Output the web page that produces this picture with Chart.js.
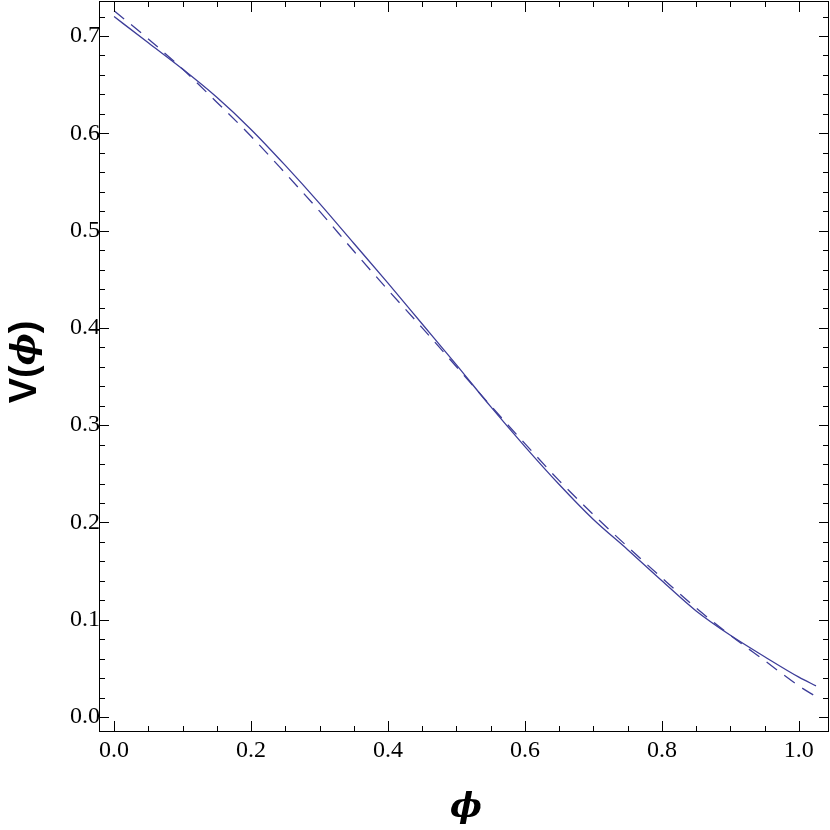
<!DOCTYPE html>
<html>
<head>
<meta charset="utf-8">
<script src="https://cdn.jsdelivr.net/npm/chart.js@4.4.1/dist/chart.umd.min.js"></script>
<style>
  html, body { margin: 0; padding: 0; background: #fff; }
  #wrap { width: 830px; height: 830px; }
</style>
</head>
<body>
<div id="wrap"><canvas id="grafico" width="830" height="830"></canvas></div>
<script>
  // valores
  const phi = [0, 0.05, 0.10, 0.15, 0.20, 0.25, 0.30, 0.35, 0.40, 0.45, 0.50,
               0.55, 0.60, 0.65, 0.70, 0.75, 0.80, 0.85, 0.90, 0.95, 1.00, 1.025];
  const vCheia = [0.720, 0.693, 0.666, 0.637, 0.604, 0.567, 0.528, 0.487, 0.446, 0.404, 0.362,
                  0.319, 0.278, 0.239, 0.203, 0.172, 0.140, 0.109, 0.084, 0.062, 0.041, 0.032];
  const vTracejada = [0.726, 0.697, 0.666, 0.632, 0.597, 0.559, 0.520, 0.479, 0.439, 0.400, 0.360,
                      0.320, 0.281, 0.243, 0.208, 0.175, 0.143, 0.112, 0.084, 0.058, 0.032, 0.021];
  const xTicks = [0, 0.2, 0.4, 0.6, 0.8, 1.0];
  const yTicks = [0, 0.1, 0.2, 0.3, 0.4, 0.5, 0.6, 0.7];
  const xMinor = 0.05;
  const yMinor = 0.02;

  const COR = '#3d3d99';
  const fonteTicks = { family: 'Liberation Serif', size: 24 };

  const pontos = ys => phi.map((x, i) => ({ x, y: ys[i] }));

  /* ── Moldura e ticks internos (estilo Mathematica) ── */
  const moldura = {
    id: 'moldura',
    afterDraw(chart) {
      const { ctx, chartArea: { top, bottom, left, right } } = chart;
      const sx = chart.scales.x, sy = chart.scales.y;
      ctx.save();
      ctx.strokeStyle = '#000';
      ctx.lineWidth = 1;
      ctx.strokeRect(Math.round(left) + 0.5, Math.round(top) + 0.5,
                     Math.round(right - left) - 1, Math.round(bottom - top) - 1);

      ctx.beginPath();
      const nx = Math.round((sx.max - sx.min) / xMinor) + 2;
      for (let k = -2; k < nx + 2; k++) {
        const v = Math.round(k * xMinor * 1000) / 1000;
        if (v < sx.min || v > sx.max) continue;
        const major = xTicks.some(t => Math.abs(t - v) < 1e-6);
        const len = major ? 11 : 6;
        const p = Math.round(sx.getPixelForValue(v)) + 0.5;
        ctx.moveTo(p, bottom); ctx.lineTo(p, bottom - len);
        ctx.moveTo(p, top); ctx.lineTo(p, top + len);
      }
      const ny = Math.round((sy.max - sy.min) / yMinor) + 2;
      for (let k = -2; k < ny + 2; k++) {
        const v = Math.round(k * yMinor * 1000) / 1000;
        if (v < sy.min || v > sy.max) continue;
        const major = yTicks.some(t => Math.abs(t - v) < 1e-6);
        const len = major ? 10 : 6;
        const p = Math.round(sy.getPixelForValue(v)) + 0.5;
        ctx.moveTo(left, p); ctx.lineTo(left + len, p);
        ctx.moveTo(right, p); ctx.lineTo(right - len, p);
      }
      ctx.stroke();

      // títulos dos eixos
      ctx.fillStyle = '#000';
      ctx.textBaseline = 'middle';
      const partes = [
        ['V(', 'bold 38px "Liberation Sans"'],
        ['\u03D5', 'italic bold 34px "DejaVu Serif"'],
        [')', 'bold 38px "Liberation Sans"']
      ];
      let total = 0;
      partes.forEach(([t, f]) => { ctx.font = f; total += ctx.measureText(t).width; });
      ctx.save();
      ctx.translate(26, 362);
      ctx.rotate(-Math.PI / 2);
      let pos = -total / 2;
      ctx.textAlign = 'left';
      partes.forEach(([t, f]) => {
        ctx.font = f;
        ctx.fillText(t, pos, 0);
        pos += ctx.measureText(t).width;
      });
      ctx.restore();

      ctx.textAlign = 'center';
      ctx.font = 'italic bold 34px "DejaVu Serif"';
      ctx.fillText('\u03D5', (left + right) / 2 + 2, 808);
      ctx.restore();
    }
  };

  new Chart(document.getElementById('grafico'), {
    type: 'scatter',
    data: {
      datasets: [
        {
          label: 'V cheia',
          data: pontos(vCheia),
          showLine: true, borderColor: COR, borderWidth: 1.3,
          pointRadius: 0, tension: 0.4, cubicInterpolationMode: 'monotone'
        },
        {
          label: 'V tracejada',
          data: pontos(vTracejada),
          showLine: true, borderColor: COR, borderWidth: 1.3, borderDash: [13, 9],
          pointRadius: 0, tension: 0.4, cubicInterpolationMode: 'monotone'
        }
      ]
    },
    options: {
      responsive: false,
      animation: false,
      devicePixelRatio: 1,
      layout: { padding: { top: 1, right: 1, left: 0, bottom: 0 } },
      plugins: {
        legend: { display: false },
        tooltip: { enabled: false }
      },
      scales: {
        x: {
          type: 'linear', min: -0.022, max: 1.044,
          grid: { display: false, drawTicks: false },
          border: { display: false },
          afterBuildTicks: s => { s.ticks = xTicks.map(v => ({ value: v })); },
          afterFit: s => { s.height = 98; s.paddingLeft = 0; s.paddingRight = 0; },
          ticks: {
            color: '#000', font: fonteTicks, padding: 4, maxRotation: 0,
            callback: v => v.toFixed(1)
          }
        },
        y: {
          type: 'linear', min: -0.0154, max: 0.736,
          grid: { display: false, drawTicks: false },
          border: { display: false },
          afterBuildTicks: s => { s.ticks = yTicks.map(v => ({ value: v })); },
          afterFit: s => { s.width = 99; s.paddingTop = 0; s.paddingBottom = 0; },
          ticks: {
            color: '#000', font: fonteTicks, padding: -1,
            callback: v => v.toFixed(1)
          }
        }
      }
    },
    plugins: [moldura]
  });
</script>
</body>
</html>
